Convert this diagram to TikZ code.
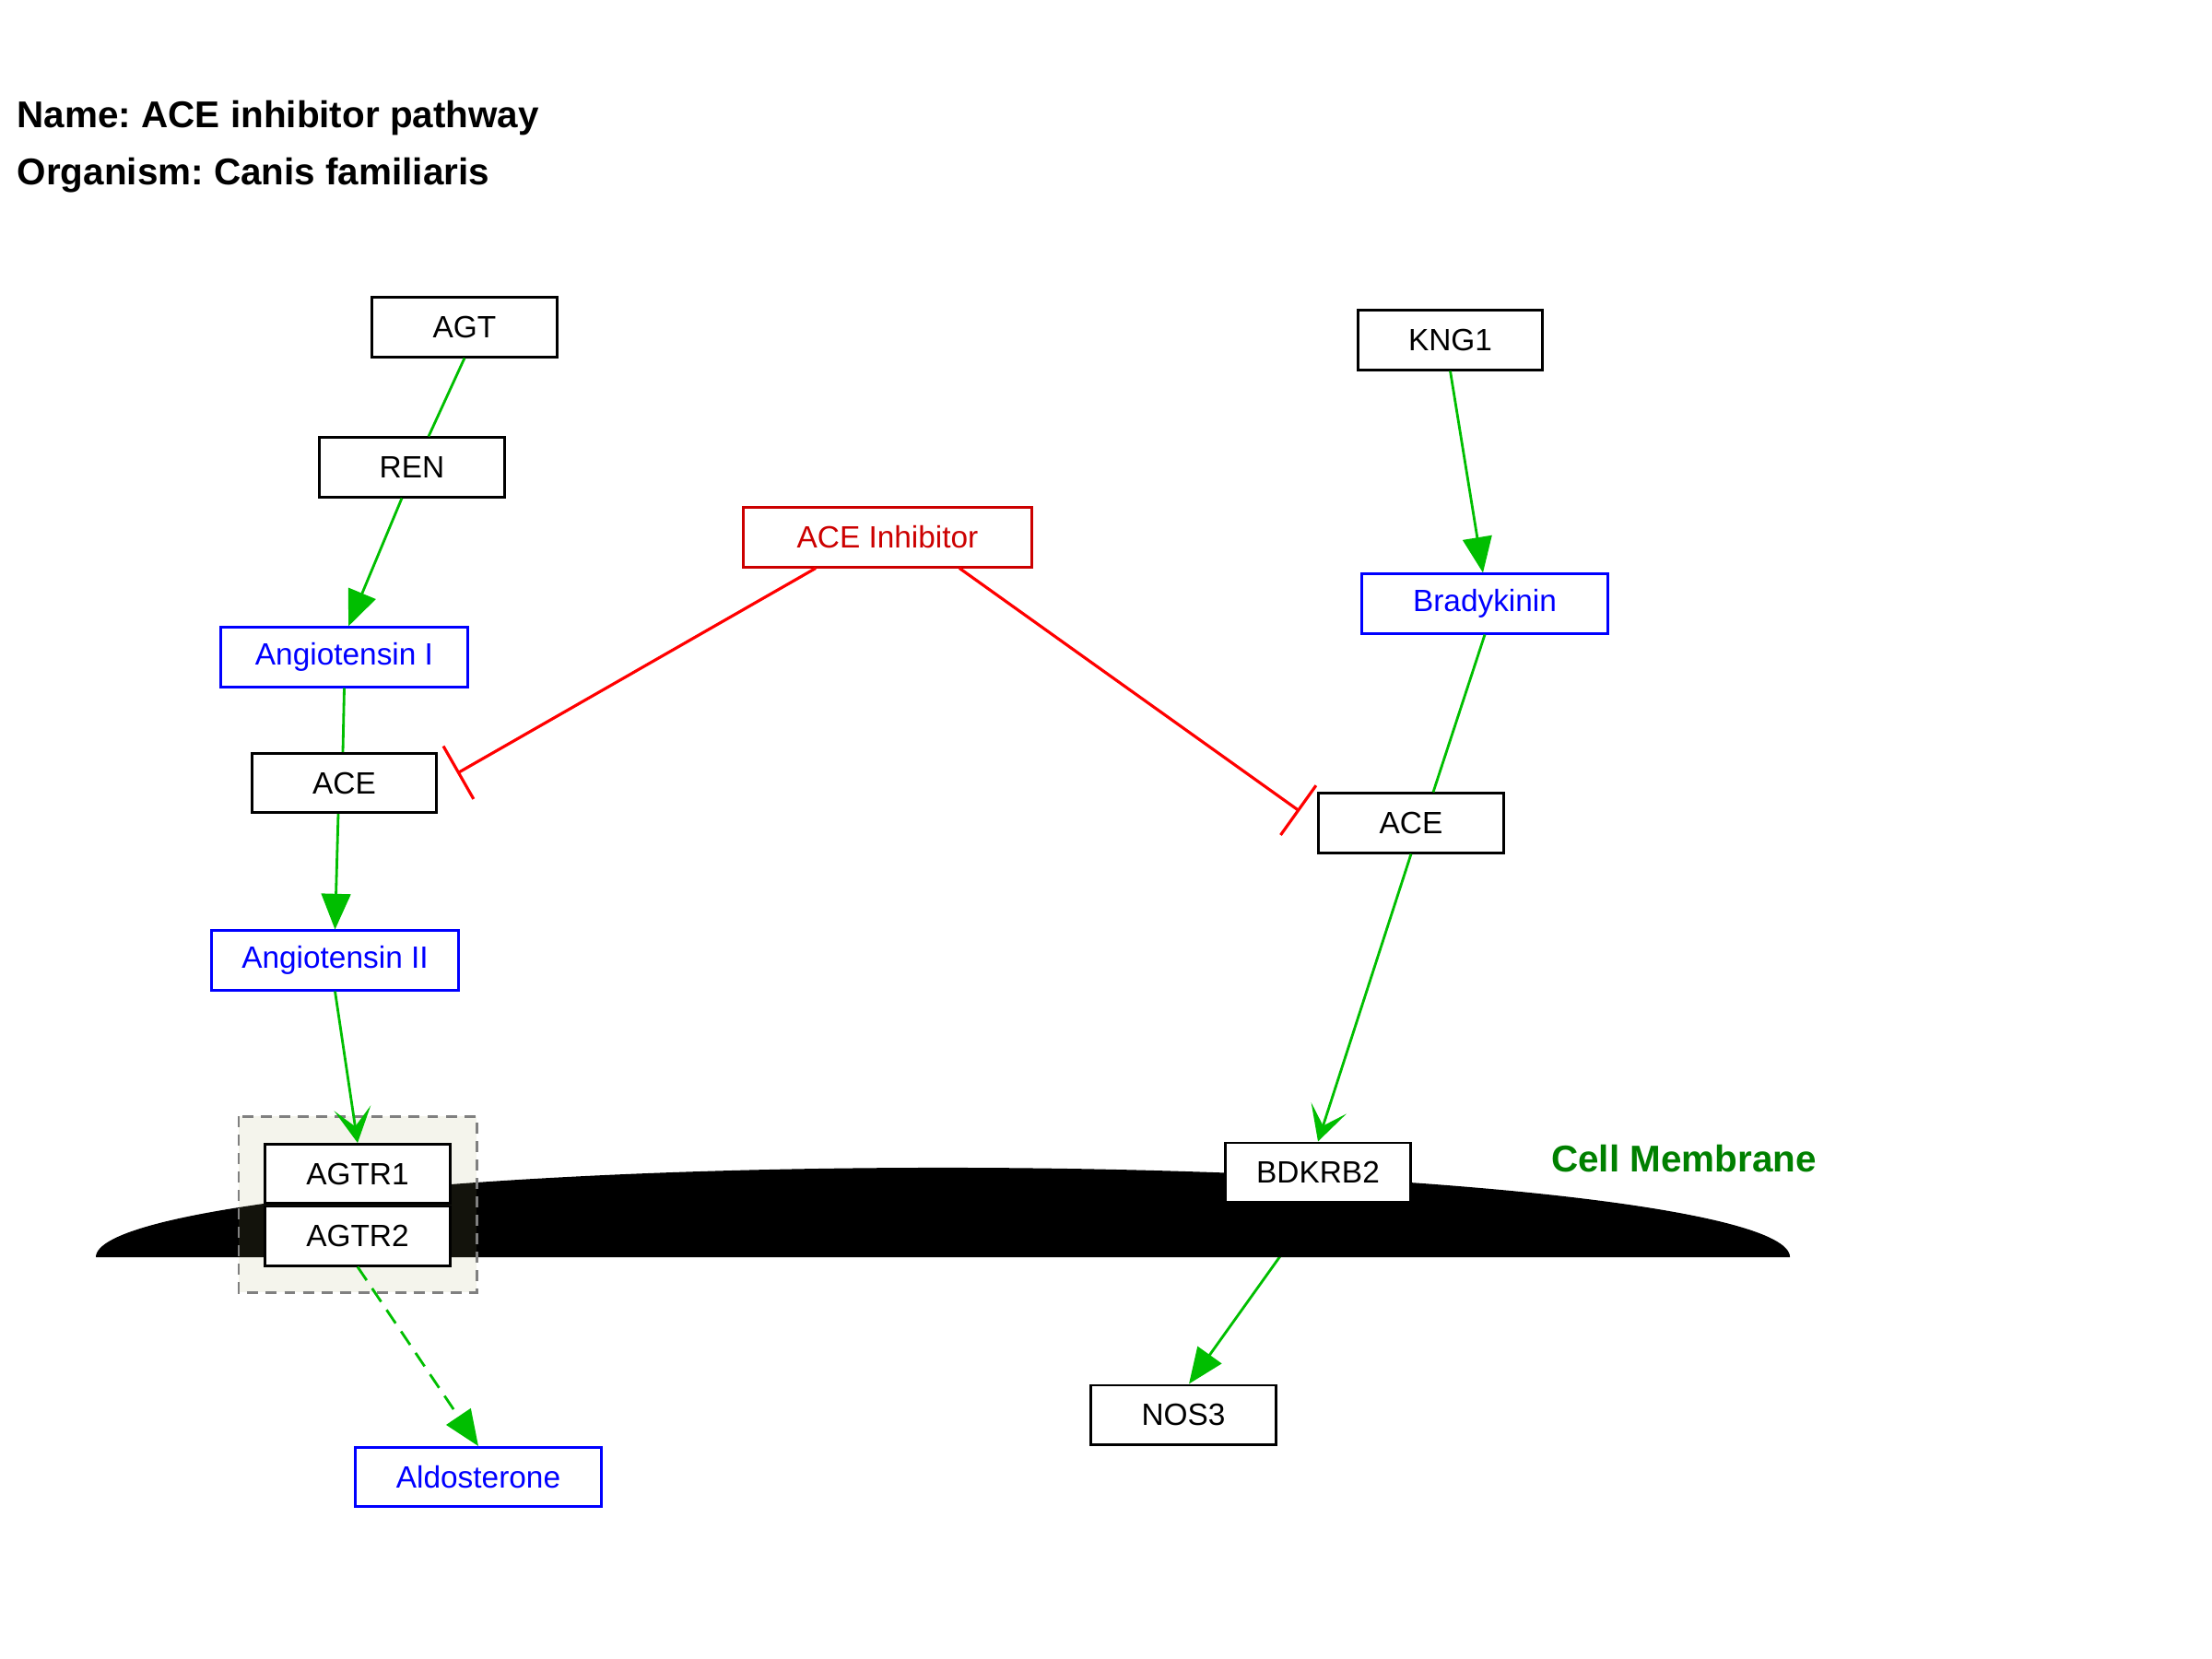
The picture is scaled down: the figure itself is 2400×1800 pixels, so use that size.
\documentclass[tikz,border=0pt]{standalone}
\usepackage{fontspec}
\setmainfont{Liberation Sans}
\usetikzlibrary{arrows.meta,calc}
\definecolor{edgegreen}{RGB}{0,190,0}
\definecolor{inhred}{RGB}{255,0,0}
\definecolor{drugred}{RGB}{204,0,0}
\definecolor{membgreen}{RGB}{0,128,0}
\definecolor{cplxfill}{RGB}{161,161,100}
\definecolor{cplxdraw}{RGB}{128,128,128}
\pgfdeclarelayer{bg}
\pgfdeclarelayer{memb}
\pgfsetlayers{bg,memb,main}
\frenchspacing
\begin{document}
\begin{tikzpicture}[x=0.01cm,y=-0.01cm,
  gene/.style={draw=black, fill=white, line width=0.85pt, minimum width=2cm, minimum height=0.64cm, inner sep=0pt, font=\fontsize{9.5}{11}\selectfont},
  metab/.style={gene, draw=blue, text=blue, minimum width=2.67cm},
  drug/.style={gene, draw=drugred, text=drugred, minimum width=3.12cm},
  plainedge/.style={draw=edgegreen, line width=0.8pt},
  conv/.style={plainedge, -{Triangle[length=11pt,width=9pt]}},
  recv/.style={plainedge, -{Stealth[length=10.8pt,width=11.4pt,inset=5.7pt]}},
  inhib/.style={draw=inhred, line width=0.9pt, -{Bar[width=18.8pt]}},
  titletext/.style={anchor=base west, inner sep=0pt, font=\bfseries\fontsize{11.5}{14}\selectfont}
]
\useasboundingbox (0,0) rectangle (2400,1800);

% title
\node[titletext] (t1) at (18,139) {Name: ACE inhibitor pathway};
\node[titletext] (t2) at (18,200) {Organism: Canis familiaris};

% nodes
\node[gene]  (AGT)   at (504,355)    {AGT};
\node[gene]  (REN)   at (447,507)    {REN};
\node[metab] (AngI)  at (373.5,713)  {Angiotensin I};
\node[gene]  (ACEL)  at (373.5,849.5){ACE};
\node[metab] (AngII) at (363.5,1042) {Angiotensin II};
\node[gene]  (AGTR1) at (388,1273.5) {AGTR1};
\node[gene]  (AGTR2) at (388,1341)   {AGTR2};
\node[metab] (Aldo)  at (519,1602.5) {Aldosterone};
\node[drug]  (Inh)   at (963,583)    {ACE Inhibitor};
\node[gene]  (KNG1)  at (1573.5,369) {KNG1};
\node[metab] (Brady) at (1611,655)   {Bradykinin};
\node[gene]  (ACER)  at (1531,893)   {ACE};
\node[gene]  (BDKRB2) at (1430,1272) {BDKRB2};
\node[gene]  (NOS3)  at (1284,1535)  {NOS3};

\node[font=\bfseries\fontsize{11.5}{14}\selectfont, text=membgreen, inner sep=0pt] (cm) at (1827,1257) {Cell Membrane};

% membrane and complex
\begin{pgfonlayer}{memb}
  \fill[black] (104,1364) arc[start angle=180, end angle=0, x radius=9.185cm, y radius=0.97cm] -- cycle;
  \draw[draw=cplxdraw, line width=0.85pt, dash pattern=on 3.4pt off 2.3pt, fill=cplxfill, fill opacity=0.12] (259,1211) rectangle (517,1402);
\end{pgfonlayer}

% edges
\draw[plainedge] (AGT.south) -- ($(REN.north)+(18,0)$);
\draw[conv] ($(REN.south)+(-11,0)$) -- ($(AngI.north)+(4.5,0)$);
\draw[plainedge] (AngI.south) -- ($(ACEL.north)+(-1.5,0)$);
\draw[conv] ($(ACEL.south)+(-6.5,0)$) -- (AngII.north);
\draw[recv] (AngII.south) -- (AGTR1.north);
\draw[conv, dash pattern=on 5pt off 3pt] (AGTR2.south) -- (Aldo.north);
\draw[conv] (KNG1.south) -- ($(Brady.north)+(-2,0)$);
\draw[plainedge] (Brady.south) -- ($(ACER.north)+(24,0)$);
\draw[recv] (ACER.south) -- (BDKRB2.north);
\begin{pgfonlayer}{bg}
  \draw[conv] (BDKRB2.south) -- ($(NOS3.north)+(6,0)$);
\end{pgfonlayer}
\draw[inhib] ($(Inh.south)+(-78,0)$) -- ($(ACEL.east)+(21,-10.5)$);
\draw[inhib] ($(Inh.south)+(78,0)$) -- ($(ACER.west)+(-19.5,-13)$);
\end{tikzpicture}
\end{document}
